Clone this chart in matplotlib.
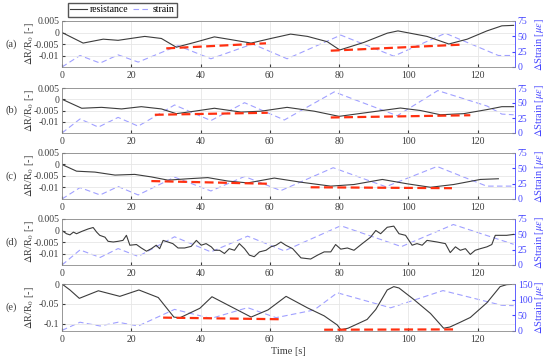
import numpy as np
import matplotlib.pyplot as plt

plt.rcParams['font.family'] = ['Liberation Serif', 'DejaVu Serif']
plt.rcParams['mathtext.fontset'] = 'stix'

# ---- data (time [s], value) ----
# panel (a)
res_a_t = [0, 6.1, 11.9, 16.2, 23.9, 28.7, 33, 38.3, 44, 48.8, 54.6, 60.3, 66, 70.9, 76.6, 80.2,
           87.2, 93.9, 97, 105.4, 111.7, 117, 122.7, 127, 130.4]
res_a_v = [0, -0.0046, -0.0029, -0.0034, -0.0017, -0.0026, -0.0064, -0.0043, -0.0019, -0.0031,
           -0.0046, -0.0026, -0.0007, -0.0017, -0.004, -0.0076, -0.0043, -0.0003, 0.0007,
           -0.0017, -0.005, -0.0029, 0.0007, 0.0029, 0.0031]
str_a_t = [0, 5.2, 11, 16.2, 22, 33.5, 43, 55, 65, 80.5, 95.8, 110.7, 126, 130.4]
str_a_v = [0, 18.75, 6.4, 19.8, 8, 34.8, 13.4, 37.5, 13.4, 52, 17.7, 55, 18.75, 18.75]
fit_a = [([30.1, 58.9], [-0.0069, -0.0047]), ([77.6, 115], [-0.0079, -0.0053])]

# panel (b)
res_b_t = [0, 5.7, 11.4, 17.2, 22.9, 28.7, 33, 38.3, 44, 51.7, 57.5, 65, 72.8, 80, 89.1, 97.7,
           103.5, 109.3, 116, 122.7, 127, 130.4]
res_b_v = [0, -0.004, -0.0036, -0.0043, -0.0033, -0.0043, -0.0064, -0.0053, -0.004, -0.0057,
           -0.0053, -0.0036, -0.0053, -0.0076, -0.0057, -0.0039, -0.005, -0.0069, -0.0064,
           -0.0046, -0.0033, -0.0033]
str_b_t = [0, 5.2, 10.5, 16.2, 22, 32.5, 43, 52.7, 64.2, 78.6, 96.8, 108.5, 122.7, 127, 130.4]
str_b_v = [0, 23.4, 9.8, 26, 11.4, 46.7, 20.7, 50.5, 21.7, 68.5, 28.8, 70.7, 45, 31.5, 30.4]
fit_b = [([26.8, 59.4], [-0.0069, -0.006]), ([77.6, 117.9], [-0.0081, -0.0071])]

# panel (c)
res_c_t = [0, 4.2, 9.5, 15.3, 21, 25.8, 30.6, 36.4, 42.1, 47.9, 53.6, 61.3, 69, 77.6, 84.3,
           92.5, 99.7, 106.4, 113.1, 120.8, 126]
res_c_v = [0, -0.0029, -0.0033, -0.0046, -0.0043, -0.0054, -0.0068, -0.0062, -0.0057, -0.0072,
           -0.008, -0.0059, -0.0077, -0.0094, -0.0087, -0.0065, -0.0084, -0.0099, -0.0087,
           -0.0065, -0.0062]
str_c_t = [0, 5.2, 11, 16.2, 22, 32.5, 43, 52.7, 63.2, 78.3, 93.5, 108.3, 122.6, 130.4]
str_c_v = [0, 18.6, 6.6, 20.3, 6.6, 35.6, 13.1, 36.7, 13.7, 51, 20, 53, 21, 21]
fit_c = [([25.8, 60.3], [-0.0072, -0.0084]), ([71.8, 112.6], [-0.0099, -0.0103])]

# panel (d)
res_d_t = [0, 1.3, 2.3, 3.3, 4.2, 5.7, 7.6, 9, 10, 10.9, 12.4, 13.3, 14.8, 16.2, 17.6, 18.6,
           19.6, 21.5, 22.9, 24.4, 25.8, 27.2, 28.2, 29.2, 30.6, 32, 33.5, 35.4, 37.3, 38.8,
           40.2, 41.6, 43.1, 44, 45.5, 46.9, 48.3, 49.8, 51.2, 52.7, 54.1, 55.5, 57, 58.9,
           60.3, 61.8, 63.2, 64.6, 66.6, 69, 71.8, 73.8, 75.7, 77.6, 79, 80.5, 82.4, 84.3,
           86.7, 89.1, 90.6, 92, 93.9, 95.8, 97.3, 99.2, 101.1, 102.5, 104, 105.4, 108.3,
           110.7, 112.1, 113.6, 115, 116.5, 117.9, 119.3, 120.8, 122.7, 124.1, 125.1, 126.5,
           128.4, 130.4]
res_d_v = [0, -0.0014, -0.0019, -0.0007, -0.0014, -0.0004, 0.0007, 0.0013, -0.0007, -0.0021,
           -0.0029, -0.0047, -0.005, -0.0047, -0.0043, -0.0021, -0.0064, -0.0061, -0.0076,
           -0.009, -0.0079, -0.0064, -0.0079, -0.0043, -0.005, -0.0057, -0.0076, -0.0076,
           -0.0069, -0.0043, -0.0064, -0.0057, -0.0071, -0.0086, -0.0086, -0.01, -0.0079,
           -0.0086, -0.0057, -0.0079, -0.0107, -0.0114, -0.0093, -0.0086, -0.0071, -0.0064,
           -0.005, -0.0064, -0.0079, -0.0119, -0.0124, -0.0107, -0.0093, -0.0093, -0.0061,
           -0.0081, -0.0076, -0.0086, -0.0057, -0.0029, 0, -0.0014, 0.0014, 0.0019, -0.0014,
           -0.0021, -0.0064, -0.0057, -0.0064, -0.0043, -0.005, -0.0057, -0.0096, -0.0071,
           -0.0086, -0.0079, -0.0104, -0.0086, -0.0079, -0.0071, -0.0061, -0.0021, -0.0021,
           -0.0021, -0.0017]
str_d_t = [0, 5.2, 11, 16.2, 22, 32.5, 43, 53.6, 64.2, 80.5, 98, 113, 130.4]
str_d_v = [0, 24.6, 12.3, 26.8, 14, 46, 21.4, 47, 23, 64, 30, 66, 33.75]
fit_d = []

# panel (e)
res_e_t = [0, 2.3, 5, 10.5, 16.7, 22.2, 27.8, 32.3, 34, 39.8, 43.3, 49.5, 54.6, 59.5, 64.7,
           70.9, 75.7, 79.5, 80.5, 82.6, 88.1, 90.6, 93.9, 95.8, 97.3, 101.6, 106.4, 110.2,
           112, 115, 117.9, 122.7, 126.5, 128.4, 129.8]
res_e_v = [0, -0.015, -0.036, -0.017, -0.031, -0.015, -0.034, -0.083, -0.085, -0.061, -0.032,
           -0.06, -0.083, -0.065, -0.031, -0.06, -0.08, -0.103, -0.115, -0.111, -0.089,
           -0.064, -0.015, -0.0066, -0.01, -0.039, -0.074, -0.111, -0.108, -0.096, -0.084,
           -0.047, -0.0066, -0.0016, -0.001]
str_e_t = [0, 5.2, 11, 16.2, 22, 32.5, 43, 53.6, 61.8, 72.8, 79.5, 94.9, 110, 127, 130.4]
str_e_v = [2, 28, 16, 28, 16, 69, 40, 74.5, 42.6, 67, 122, 74, 129, 82, 81]
fit_e = [([29.2, 63.2], [-0.0844, -0.0885]), ([75.7, 113.6], [-0.1148, -0.114])]

panels = [
    ('(a)', res_a_t, res_a_v, str_a_t, str_a_v, fit_a),
    ('(b)', res_b_t, res_b_v, str_b_t, str_b_v, fit_b),
    ('(c)', res_c_t, res_c_v, str_c_t, str_c_v, fit_c),
    ('(d)', res_d_t, res_d_v, str_d_t, str_d_v, fit_d),
    ('(e)', res_e_t, res_e_v, str_e_t, str_e_v, fit_e),
]

W, H = 550, 361
fig = plt.figure(figsize=(W / 100, H / 100), dpi=100)

# axes boxes in pixels: (top, bottom)
boxes = [(21, 67), (88, 133), (153, 199), (219, 265), (284, 331)]
left_px, right_px = 62, 515

blue = '#4646ff'
gray = '#3c3c3c'

for i, (tag, rt, rv, st, sv, fits) in enumerate(panels):
    top, bot = boxes[i]
    ax = fig.add_axes([left_px / W, 1 - bot / H, (right_px - left_px) / W, (bot - top) / H])
    ax2 = ax.twinx()
    ax.set_zorder(ax2.get_zorder() + 1)
    ax.patch.set_visible(False)

    l2, = ax2.plot(st, sv, color='#a0a0ff', lw=0.8, dashes=(5, 3))
    l1, = ax.plot(rt, rv, color=gray, lw=0.8)
    for ft, fv in fits:
        ax.plot(ft, fv, color='#ff3010', lw=1.6, dashes=(4, 2))

    ax.set_xlim(0, 130.8)
    if tag == '(e)':
        ax.set_ylim(-0.118, 0)
        ax.set_yticks([-0.1, -0.05, 0])
        ax.set_yticklabels(['-0.1', '-0.05', '0'])
        ax2.set_ylim(0, 150)
        ax2.set_yticks([0, 50, 100, 150])
    else:
        ax.set_ylim(-0.015, 0.005)
        ax.set_yticks([-0.01, -0.005, 0, 0.005])
        ax.set_yticklabels(['-0.01', '-0.005', '0', '0.005'])
        ax2.set_ylim(0, 75)
        ax2.set_yticks([0, 25, 50, 75])
    ax.set_xticks(range(0, 121, 20))

    ax.grid(True, color='#e6e6e6', lw=0.6)
    ax.tick_params(direction='in', length=2, labelsize=7, colors=gray, pad=3)
    ax.tick_params(axis='y', pad=2)
    ax2.tick_params(direction='in', length=2, labelsize=7, colors=blue, pad=2)
    for sp in ['left', 'top', 'bottom']:
        ax.spines[sp].set_color('#8a8a8a')
        ax.spines[sp].set_linewidth(0.6)
    ax.spines['right'].set_visible(False)
    for sp in ['left', 'top', 'bottom']:
        ax2.spines[sp].set_visible(False)
    ax2.spines['right'].set_color(blue)
    ax2.spines['right'].set_linewidth(0.6)

    ax.set_ylabel(r'$\Delta$R/R$_0$ [-]', fontsize=7.5, color=gray)
    ax.yaxis.set_label_coords(-0.058, 0.5)
    ax2.set_ylabel(r'$\Delta$Strain [$\mu\epsilon$]', fontsize=7.5, color=blue)
    ax2.yaxis.set_label_coords(1.04, 0.5)
    fig.text(5 / W, 1 - (top + bot) / 2 / H, tag, fontsize=7.5, color=gray, va='center')

    if i == 0:
        fig.legend([l1, l2], ['resistance', 'strain'], ncol=2, fontsize=7,
                   loc='upper left', bbox_to_anchor=(68 / W, 1 - 3 / H),
                   frameon=True, fancybox=False, edgecolor='#555555', framealpha=1,
                   handlelength=1.7, handletextpad=0.3, columnspacing=0.5,
                   borderpad=0.25, borderaxespad=0)
    if i == 4:
        ax.set_xlabel('Time [s]', fontsize=7.5, color=gray, labelpad=2)

fig.savefig('out.png', dpi=100)
